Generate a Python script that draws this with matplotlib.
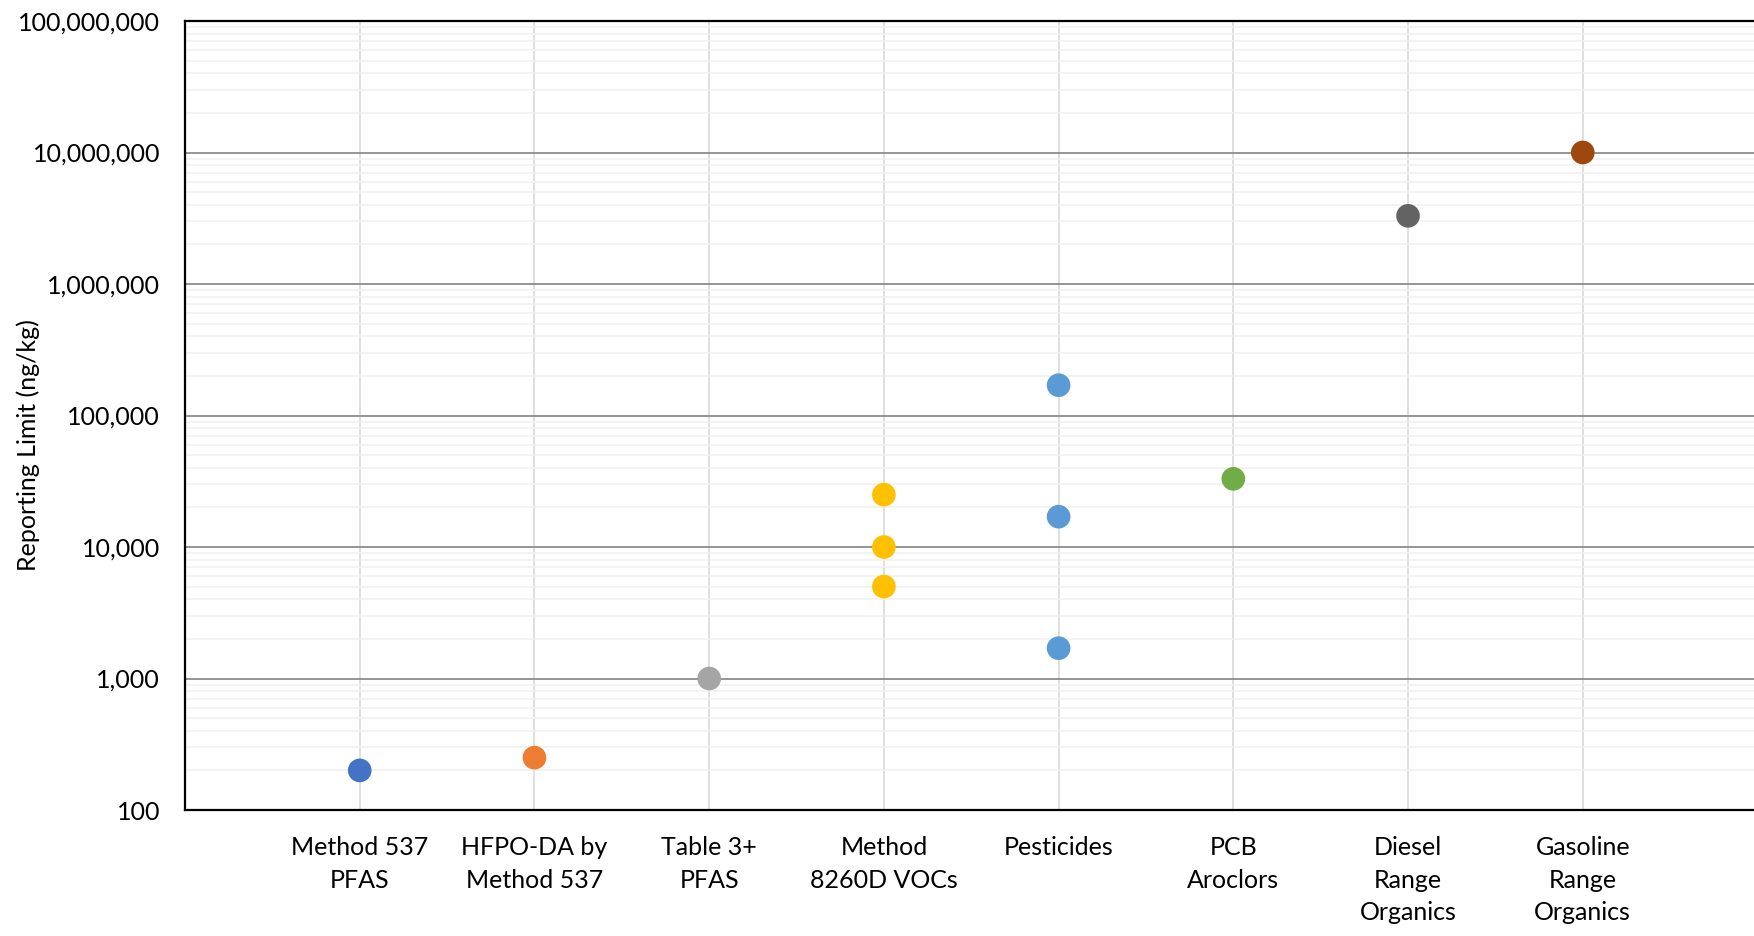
import numpy as np
import matplotlib; matplotlib.use("Agg")
import matplotlib.pyplot as plt
from matplotlib.ticker import FuncFormatter, LogLocator, NullFormatter

plt.rcParams.update({"font.family": ["Lato", "DejaVu Sans"], "font.size": 18})

categories = ["Method 537\nPFAS", "HFPO-DA by\nMethod 537", "Table 3+\nPFAS",
              "Method\n8260D VOCs", "Pesticides", "PCB\nAroclors",
              "Diesel\nRange\nOrganics", "Gasoline\nRange\nOrganics"]
limits = [[200], [250], [1000], [25000, 10000, 5000],
          [170000, 17000, 1700], [33000], [3300000], [10000000]]
colors = ["#4472C4", "#ED7D31", "#A5A5A5", "#FFC000",
          "#5B9BD5", "#70AD47", "#636363", "#9E480E"]

fig = plt.figure(figsize=(17.54, 9.36), dpi=100)
ax = fig.add_axes([185/1754, 1 - 810/936, 1 - 185/1754, (810 - 21)/936])

for i, (vals, col) in enumerate(zip(limits, colors), start=1):
    ax.scatter([i]*len(vals), vals, s=290, color=col, edgecolors="none", zorder=4)

ax.set_yscale("log")
ax.set_ylim(100, 1e8)
ax.set_xlim(0, 8.98)
ax.yaxis.set_major_locator(LogLocator(base=10, numticks=10))
ax.yaxis.set_minor_locator(LogLocator(base=10, subs=np.arange(2, 10), numticks=100))
ax.yaxis.set_major_formatter(FuncFormatter(lambda v, p: f"{v:,.0f}"))
ax.yaxis.set_minor_formatter(NullFormatter())

ax.set_xticks(range(1, len(categories) + 1))
ax.set_xticklabels(categories, linespacing=1.5, va="top")
ax.tick_params(axis="both", which="both", length=0)
ax.tick_params(axis="x", pad=19)
ax.tick_params(axis="y", pad=18)

ax.grid(axis="y", which="minor", color="#f0f0f0", lw=1.1, zorder=0)
ax.grid(axis="y", which="major", color="#8c8c8c", lw=1.3, zorder=1)
ax.grid(axis="x", which="major", color="#d9d9d9", lw=1.2, zorder=1)
ax.set_axisbelow(True)

for side in ("left", "bottom", "top"):
    ax.spines[side].set_linewidth(1.6)
    ax.spines[side].set_color("black")
ax.spines["right"].set_visible(False)

fig.text(28/1754, 1 - 445/936, "Reporting Limit (ng/kg)", rotation=90,
         ha="center", va="center", fontsize=18)

fig.savefig("out.png", dpi=100)
